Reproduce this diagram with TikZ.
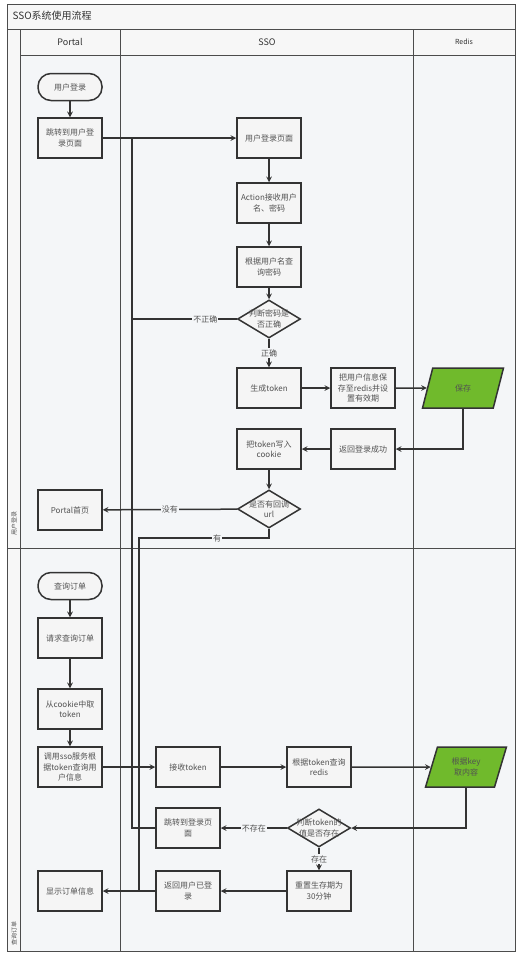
\documentclass[tikz,border=0pt]{standalone}
\usepackage{fontspec}
\setmainfont{Noto Sans CJK SC}
\usetikzlibrary{shapes.geometric}

\definecolor{lanebg}{RGB}{244,246,248}
\definecolor{okgreen}{RGB}{112,186,44}
\definecolor{ink}{RGB}{51,51,51}

\begin{document}
\begin{tikzpicture}[x=1pt, y=-1pt, >=stealth,
    every node/.style={font=\fontsize{8}{10.5}\selectfont, text=ink!85},
    box/.style={draw=ink, line width=1.5pt, fill=gray!8, minimum width=64pt, minimum height=40pt, align=center, inner sep=1pt},
    term/.style={box, rounded corners=13pt, minimum height=27pt},
    decision/.style={diamond, draw=ink, line width=1.5pt, fill=gray!8, minimum width=63pt, minimum height=38pt, inner sep=0pt},
    dtext/.style={align=center, inner sep=0pt},
    store/.style={trapezium, trapezium left angle=72, trapezium right angle=108, trapezium stretches=true, draw=ink, line width=1.5pt, fill=okgreen, minimum width=81pt, minimum height=40pt, align=center, inner sep=1pt},
    flow/.style={->, draw=ink, line width=1.5pt},
    link/.style={draw=ink, line width=1.5pt},
    lbl/.style={fill=lanebg, inner sep=1pt}]

    \useasboundingbox[fill=white] (0,0) rectangle (519,956);

    % swimlanes
    \filldraw[fill=gray!6, draw=gray!60!black, line width=0.8pt] (7,4) rectangle (515,951);
    \fill[lanebg] (20,55) rectangle (515,951);
    \draw[gray!60!black, line width=0.8pt] (7,29) -- (515,29);
    \draw[gray!60!black, line width=0.8pt] (20,55) -- (515,55);
    \draw[gray!60!black, line width=0.8pt] (7,548) -- (515,548);
    \foreach \x in {20, 120, 413}
        \draw[gray!60!black, line width=0.8pt] (\x,29) -- (\x,951);

    \node[anchor=west, font=\fontsize{10}{12}\selectfont, text=ink] (title) at (9,16) {SSO系统使用流程};
    \node[font=\fontsize{9}{11}\selectfont, text=ink] (hPortal) at (70,42) {Portal};
    \node[font=\fontsize{9}{11}\selectfont, text=ink] (hSso) at (267,42) {SSO};
    \node[font=\fontsize{7}{9}\selectfont, text=ink] (hRedis) at (464,42) {Redis};
    \node[rotate=90, font=\fontsize{6}{7}\selectfont] (laneLogin) at (14,523) {用户登录};
    \node[rotate=90, font=\fontsize{6}{7}\selectfont] (laneOrder) at (14,933) {查询订单};

    % login lane
    \node[term] (login) at (70,87) {用户登录};
    \node[box] (toLogin) at (70,138) {跳转到用户登\\录页面};
    \node[box] (loginPage) at (269,138) {用户登录页面};
    \node[box] (action) at (269,203) {Action接收用户\\名、密码};
    \node[box] (queryPwd) at (269,267) {根据用户名查\\询密码};
    \node[decision, label={[dtext]center:判断密码是\\否正确}] (chkPwd) at (269,319) {};
    \node[box] (mkToken) at (269,388) {生成token};
    \node[box] (saveInfo) at (363,388) {把用户信息保\\存至redis并设\\置有效期};
    \node[store] (save) at (463,388) {保存};
    \node[box] (toCookie) at (269,449) {把token写入\\cookie};
    \node[box] (loginOk) at (363,449) {返回登录成功};
    \node[decision, label={[dtext]center:是否有回调\\url}] (chkUrl) at (269,509) {};
    \node[box] (home) at (70,510) {Portal首页};

    % order lane
    \node[term] (query) at (70,586) {查询订单};
    \node[box] (reqOrder) at (70,638) {请求查询订单};
    \node[box] (getToken) at (70,709) {从cookie中取\\token};
    \node[box] (callSso) at (70,767) {调用sso服务根\\据token查询用\\户信息};
    \node[box] (recvToken) at (188,767) {接收token};
    \node[box] (queryRedis) at (319,767) {根据token查询\\redis};
    \node[store] (getKey) at (466,767) {根据key\\取内容};
    \node[decision, label={[dtext]center:判断token的\\值是否存在}] (chkToken) at (319,828) {};
    \node[box] (toLogin2) at (188,828) {跳转到登录页\\面};
    \node[box] (reset) at (319,891) {重置生存期为\\30分钟};
    \node[box] (logged) at (188,891) {返回用户已登\\录};
    \node[box] (showOrder) at (70,891) {显示订单信息};

    \coordinate (backTop) at (132,138);
    \coordinate (hasRow) at (139,538);
    \coordinate (backJoin) at (139,891);

    % connectors
    \draw[flow] (login) -- (toLogin);
    \draw[flow] (toLogin) -- (loginPage);
    \draw[flow] (loginPage) -- (action);
    \draw[flow] (action) -- (queryPwd);
    \draw[flow] (queryPwd) -- (chkPwd);
    \draw[flow] (chkPwd) -- node[lbl] {正确} (mkToken);
    \draw[link] (chkPwd.west) -- node[lbl, pos=0.3] {不正确} (chkPwd.west -| backTop) -- (backTop);
    \draw[flow] (mkToken) -- (saveInfo);
    \draw[flow] (saveInfo) -- (save);
    \draw[flow] (save.south) |- (loginOk);
    \draw[flow] (loginOk) -- (toCookie);
    \draw[flow] (toCookie) -- (chkUrl);
    \draw[flow] (chkUrl) -- node[lbl] {没有} (home);
    \draw[link] (chkUrl.south) |- node[lbl, pos=0.7] {有} (hasRow) -- (backJoin);

    \draw[flow] (query) -- (reqOrder);
    \draw[flow] (reqOrder) -- (getToken);
    \draw[flow] (getToken) -- (callSso);
    \draw[flow] (callSso) -- (recvToken);
    \draw[flow] (recvToken) -- (queryRedis);
    \draw[flow] (queryRedis) -- (getKey);
    \draw[flow] (getKey.south) |- (chkToken);
    \draw[flow] (chkToken) -- node[lbl] {不存在} (toLogin2);
    \draw[link] (toLogin2.west) -| (backTop);
    \draw[flow] (chkToken) -- node[lbl] {存在} (reset);
    \draw[flow] (reset) -- (logged);
    \draw[flow] (logged) -- (showOrder);

\end{tikzpicture}
\end{document}
